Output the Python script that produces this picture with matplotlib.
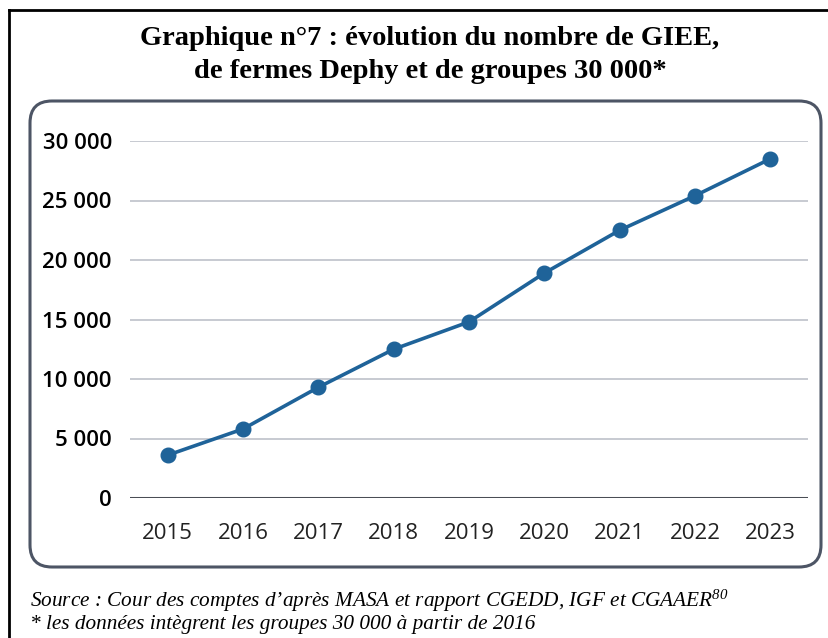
import matplotlib
matplotlib.use("Agg")
import matplotlib.pyplot as plt
from matplotlib.patches import FancyBboxPatch
from matplotlib.lines import Line2D
from matplotlib.ticker import FuncFormatter

years = [2015, 2016, 2017, 2018, 2019, 2020, 2021, 2022, 2023]
counts = [3600, 5800, 9300, 12500, 14800, 18900, 22500, 25400, 28500]
yticks = [0, 5000, 10000, 15000, 20000, 25000, 30000]

title = "Graphique n°7 : évolution du nombre de GIEE,\nde fermes Dephy et de groupes 30 000*"
source = "Source : Cour des comptes d\u2019après MASA et rapport CGEDD, IGF et CGAAER$^{80}$"
note = "* les données intègrent les groupes 30 000 à partir de 2016"

plt.rcParams["mathtext.fontset"] = "custom"
plt.rcParams["mathtext.rm"] = "Liberation Serif:italic"
plt.rcParams["mathtext.it"] = "Liberation Serif:italic"

W, H = 829, 638
fig = plt.figure(figsize=(W / 100, H / 100), dpi=100)

# outer frame (top + left edges only visible)
fig.add_artist(Line2D([9 / W, 1], [1 - 10 / H, 1 - 10 / H], transform=fig.transFigure, color="black", lw=2))
fig.add_artist(Line2D([9 / W, 9 / W], [0, 1 - 10 / H], transform=fig.transFigure, color="black", lw=2))

# rounded chart panel (inches so the corners stay round)
box = FancyBboxPatch((0.30, 0.71), 7.91, 4.66, boxstyle="round,pad=0,rounding_size=0.22",
                     transform=fig.dpi_scale_trans, facecolor="white", edgecolor="#4d5565", lw=2.2,
                     zorder=-1)
fig.add_artist(box)

fig.text(430 / W, 1 - 55 / H, title, ha="center", va="center", fontsize=20.5, fontweight="bold",
         family="Liberation Serif", linespacing=1.42)

ax = fig.add_axes([130 / W, 1 - 498 / H, 678 / W, 357 / H])
ax.set_facecolor("none")
ax.plot(years, counts, color="#1f6399", lw=2.6, marker="o", markersize=10.5, zorder=3)
ax.set_xlim(2014.5, 2023.5)
ax.set_ylim(0, 30000)
ax.set_xticks(years)
ax.set_yticks(yticks)
ax.yaxis.set_major_formatter(FuncFormatter(lambda v, p: f"{int(v):,}".replace(",", " ")))
for s in ax.spines.values():
    s.set_visible(False)
ax.grid(axis="y", color="#c3c6ce", lw=1.3)
ax.axhline(0, color="#4a4e55", lw=2.2, zorder=2)
ax.tick_params(length=0, labelsize=16)
ax.tick_params(axis="y", pad=13, colors="#000000")
ax.tick_params(axis="x", pad=18, colors="#222222")
for lab in ax.get_xticklabels():
    lab.set_family("Open Sans")
for lab in ax.get_yticklabels():
    lab.set_family("Open Sans")
    lab.set_fontweight(600)

fig.text(30 / W, 1 - 601 / H, source, ha="left", va="center", fontsize=15.3, style="italic",
         family="Liberation Serif")
fig.text(30 / W, 1 - 625 / H, note, ha="left", va="center", fontsize=15.3, style="italic",
         family="Liberation Serif")

fig.savefig("out.png", dpi=100)
